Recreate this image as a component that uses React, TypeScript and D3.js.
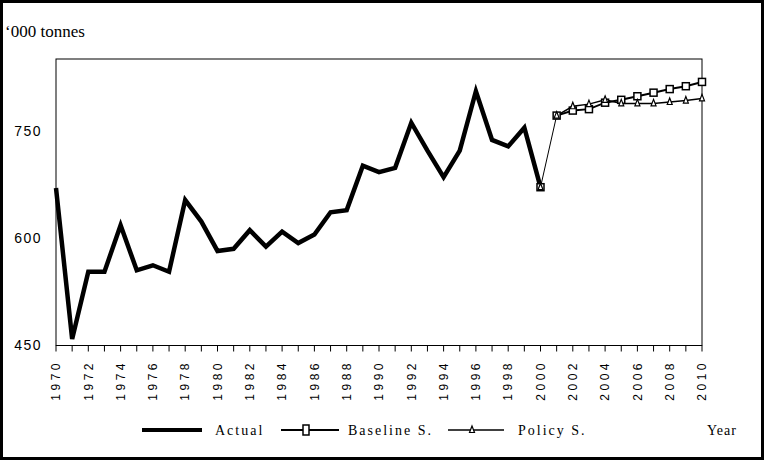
import React from "react";
import * as d3 from "d3";

const actualYears = d3.range(1970, 2001);
const actualValues = [670, 459, 553, 553, 618, 555, 562, 553, 653, 623, 582, 585, 611, 588, 609, 593, 605, 636, 639, 701, 692, 698, 761, 722, 685, 722, 805, 737, 728, 754, 671];
const scenarioYears = d3.range(2000, 2011);
const baselineValues = [671, 771, 778, 780, 789, 793, 798, 803, 808, 812, 818];
const policyValues = [671, 771, 784, 787, 793, 788, 788, 788, 790, 792, 795];
const yTicks = [450, 600, 750];
const xTickYears = d3.range(1970, 2011);
const xLabelYears = d3.range(1970, 2011, 2);
const legendLabels = ["Actual", "Baseline S.", "Policy S."];

const W = 764, H = 460;
const L = 56, R = 702, T = 59, B = 345.5;

export default function App() {
  const x = d3.scaleLinear().domain([1970, 2010]).range([L, R]);
  const y = d3.scaleLinear().domain([450, 850]).range([B, T]);
  const line = d3.line<[number, number]>().x(d => x(d[0])).y(d => y(d[1]));
  const actual = actualYears.map((yr, i) => [yr, actualValues[i]] as [number, number]);
  const base = scenarioYears.map((yr, i) => [yr, baselineValues[i]] as [number, number]);
  const pol = scenarioYears.map((yr, i) => [yr, policyValues[i]] as [number, number]);
  const tri = (cx: number, cy: number) => `M${cx},${cy - 4}L${cx + 2.5},${cy + 2.5}L${cx - 2.5},${cy + 2.5}Z`;
  const sans = "'Liberation Sans', Arial, sans-serif";
  const serif = "'Liberation Serif', 'Times New Roman', serif";
  const ly = 430;
  return (
    <svg width={W} height={H} style={{ position: "absolute", left: 0, top: 0, background: "#fff" }}>
      <rect x={1.5} y={1.5} width={W - 3} height={H - 3} fill="#fff" stroke="#000" strokeWidth={3} />
      <text x={5} y={37} fontFamily={serif} fontSize={17}>‘000 tonnes</text>
      <rect x={L} y={T} width={R - L} height={B - T} fill="none" stroke="#000" strokeWidth={1} />
      {yTicks.map(t => (
        <text key={t} x={42} y={y(t)} dy="0.35em" textAnchor="end" fontFamily={sans} fontSize={14} letterSpacing={1.5}>{t}</text>
      ))}
      {xTickYears.map(t => (
        <line key={t} x1={x(t)} x2={x(t)} y1={B} y2={B + 6} stroke="#000" strokeWidth={1} />
      ))}
      {xLabelYears.map(t => (
        <text key={t} transform={`translate(${x(t)},${360}) rotate(-90)`} dy="0.35em" textAnchor="end" fontFamily={sans} fontSize={12} letterSpacing={3.5}>{t}</text>
      ))}
      <path d={line(actual) || ""} fill="none" stroke="#000" strokeWidth={4.5} strokeLinejoin="miter" />
      <path d={line(base.slice(0, 2)) || ""} fill="none" stroke="#000" strokeWidth={1} />
      <path d={line(base.slice(1)) || ""} fill="none" stroke="#000" strokeWidth={2} />
      <path d={line(pol.slice(1)) || ""} fill="none" stroke="#000" strokeWidth={1.5} />
      {base.map(d => (
        <rect key={"b" + d[0]} x={x(d[0]) - 3.5} y={y(d[1]) - 3.5} width={7} height={7} fill="#fff" stroke="#000" strokeWidth={1.5} />
      ))}
      {pol.map(d => (
        <path key={"p" + d[0]} d={tri(x(d[0]), y(d[1]))} fill="#fff" stroke="#000" strokeWidth={1.2} />
      ))}
      {/* legend */}
      <line x1={142} x2={202} y1={ly} y2={ly} stroke="#000" strokeWidth={4} />
      <text x={215} y={ly + 5} fontFamily={serif} fontSize={14} letterSpacing={2}>{legendLabels[0]}</text>
      <line x1={281} x2={339} y1={ly} y2={ly} stroke="#000" strokeWidth={2} />
      <rect x={303} y={ly - 5} width={6} height={10} fill="#fff" stroke="#000" strokeWidth={1.5} />
      <text x={348} y={ly + 5} fontFamily={serif} fontSize={14} letterSpacing={2}>{legendLabels[1]}</text>
      <line x1={448} x2={504} y1={ly} y2={ly} stroke="#000" strokeWidth={1.5} />
      <path d={tri(472, ly)} fill="#fff" stroke="#000" strokeWidth={1.2} />
      <text x={518} y={ly + 5} fontFamily={serif} fontSize={14} letterSpacing={2}>{legendLabels[2]}</text>
      <text x={707} y={ly + 5} fontFamily={serif} fontSize={14} letterSpacing={1}>Year</text>
    </svg>
  );
}
